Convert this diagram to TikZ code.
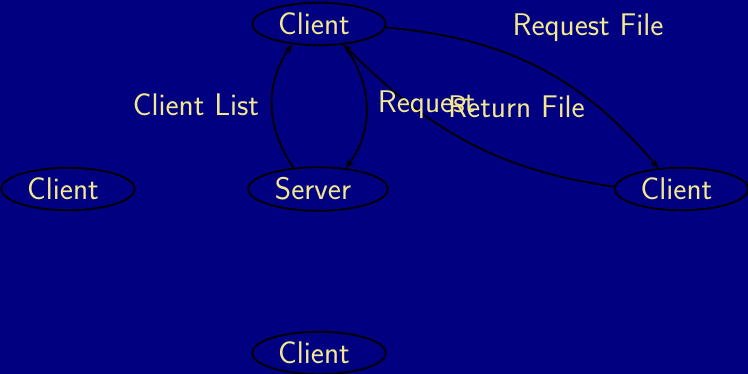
\documentclass[tikz,border=0pt]{standalone}
\usetikzlibrary{shapes.geometric,arrows.meta}
\definecolor{navybg}{RGB}{0,0,128}
\definecolor{labeltext}{RGB}{242,232,145}
\begin{document}
\begin{tikzpicture}[x=1pt,y=1pt,
  every node/.style={text=labeltext,font=\fontsize{31.3}{37}\selectfont\sffamily},
  peer/.style={ellipse,draw=black,line width=1.8pt,inner xsep=6.4pt,inner ysep=4pt},
  flow/.style={draw=black,line width=1.8pt,-{Stealth[length=9pt,width=7pt,inset=3pt]}},
  tag/.style={anchor=base,inner sep=0pt}]
  % canvas
  \path[fill=navybg] (0,0) rectangle (748,-374);
  \useasboundingbox (0,0) rectangle (748,-374);

  % peers and the server (the kern leaves room after each name)
  \node[peer] (top)    at (319,-24)    {Client\kern10pt};
  \node[peer] (server) at (318,-189)   {Server\kern10pt};
  \node[peer] (left)   at (68,-189)    {Client\kern10pt};
  \node[peer] (right)  at (681.5,-189) {Client\kern10pt};
  \node[peer] (bottom) at (319,-353)   {Client\kern10pt};

  % exchanges
  \draw[flow] (server.139) to[out=125,in=235] (top.217);
  \draw[flow] (top.320) to[out=-53,in=53] (server.37);
  \draw[flow] (top.-3) to[out=-5,in=130] (right.138);
  \draw[flow] (right.178) to[out=172,in=-45] (top.320);

  % labels
  \node[tag] (lbllist) at (196,-116)   {Client List};
  \node[tag] (lblreq)  at (426.5,-113) {Request};
  \node[tag] (lblfile) at (588,-36)    {Request File};
  \node[tag] (lblret)  at (516.5,-118) {Return File};
\end{tikzpicture}
\end{document}
